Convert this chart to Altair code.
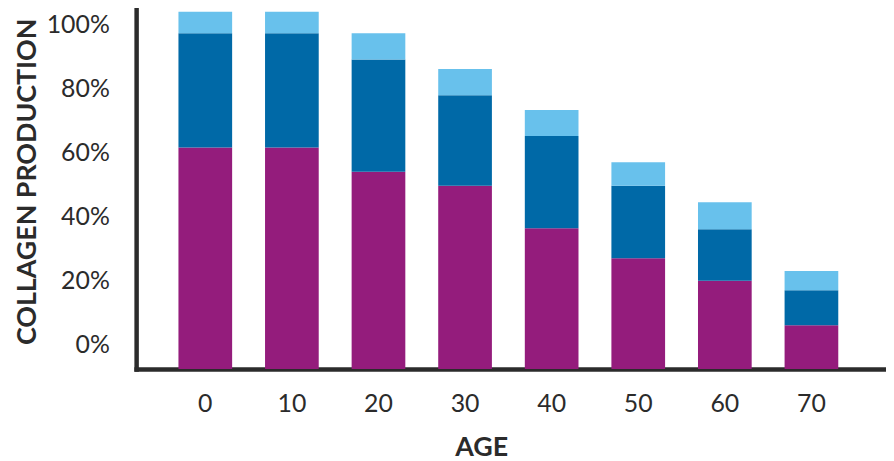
import altair as alt
import pandas as pd

AGES = ["0", "10", "20", "30", "40", "50", "60", "70"]
# level reached by the base (magenta) segment, in %
BASE = [61.6, 61.6, 54.0, 49.7, 36.4, 27.0, 20.0, 6.1]
# height of the middle (dark blue) segment, in %
MID = [35.7, 35.7, 35.1, 28.2, 28.8, 22.7, 16.1, 10.9]
# height of the top (light blue) segment, in %
TOP = [6.7, 6.7, 8.2, 8.2, 8.1, 7.3, 8.4, 6.0]
SEGMENTS = ["base", "mid", "top"]
COLORS = ["#941c7c", "#0069a7", "#68c1ec"]
Y_TICKS = [0, 20, 40, 60, 80, 100]
Y_MIN, Y_MAX = -7.6, 104.7

rows = []
for i, age in enumerate(AGES):
    b = BASE[i]
    m = b + MID[i]
    t = m + TOP[i]
    rows.append(dict(age=age, seg="base", y0=Y_MIN, y1=b))
    rows.append(dict(age=age, seg="mid", y0=b, y1=m))
    rows.append(dict(age=age, seg="top", y0=m, y1=t))
df = pd.DataFrame(rows)

INK = "#2b2b2b"

chart = alt.Chart(df).mark_bar().encode(
    x=alt.X(
        "age:N",
        sort=AGES,
        scale=alt.Scale(paddingInner=0.38, paddingOuter=0.52, align=0.47),
        axis=alt.Axis(
            title="AGE",
            labelAngle=0,
            labelPadding=23,
            labelBaseline="top",
            titleX=347.5,
            titleY=79,
            titleBaseline="middle",
            titleAlign="center",
            titleFontSize=27,
        ),
    ),
    y=alt.Y(
        "y1:Q",
        scale=alt.Scale(domain=[Y_MIN, Y_MAX], nice=False, zero=False),
        axis=alt.Axis(
            values=Y_TICKS,
            labelExpr="datum.value + '%'",
            title="COLLAGEN PRODUCTION",
            labelPadding=27,
            titleX=-109,
            titleY=173,
            titleAngle=-90,
            titleBaseline="middle",
            titleAlign="center",
            titleFontSize=27,
        ),
    ),
    y2="y0:Q",
    color=alt.Color(
        "seg:N", scale=alt.Scale(domain=SEGMENTS, range=COLORS), legend=None
    ),
    order=alt.Order("seg:N"),
).properties(
    width=755,
    height=362,
    autosize="none",
    padding={"left": 129, "top": 0, "right": 0, "bottom": 91},
).configure_view(
    stroke=None
).configure_axis(
    grid=False,
    ticks=False,
    tickSize=0,
    domainColor=INK,
    domainWidth=4.5,
    domainCap="square",
    labelFont="Lato",
    labelFontSize=25,
    labelColor=INK,
    titleFont="Lato",
    titleFontWeight="bold",
    titleColor=INK,
)

chart.save("out.html", embed_options={"renderer": "svg", "actions": False})
